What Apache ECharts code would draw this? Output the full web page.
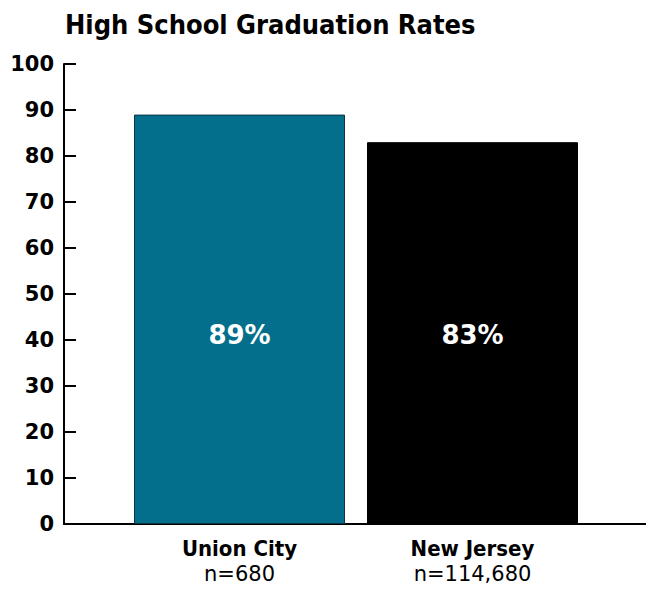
<!DOCTYPE html>
<html>
<head>
<meta charset="utf-8">
<script src="https://cdn.jsdelivr.net/npm/echarts@6/dist/echarts.min.js"></script>
<style>
  html, body { margin: 0; padding: 0; background: #fff; }
  #chart { width: 646px; height: 590px; }
</style>
</head>
<body>
<div id="chart"></div>
<script>
// Graduation rates
const categories = ['Union City', 'New Jersey'];
const sampleSizes = ['n=680', 'n=114,680'];
const rates = [89, 83];
const barColors = ['#046f8c', '#000000'];
const yTicks = [0, 10, 20, 30, 40, 50, 60, 70, 80, 90, 100];

const chart = echarts.init(document.getElementById('chart'), null, { renderer: 'svg' });

const option = {
    animation: false,
    title: {
        text: 'High School Graduation Rates',
        left: 60,
        top: 6,
        textStyle: { fontFamily: 'DejaVu Sans Condensed', fontWeight: 'bold', fontSize: 27, color: '#000' }
    },
    grid: [
        // outer frame: y axis and the full-width baseline
        { left: 64, right: 0, top: 64, height: 460 },
        // inner plot for the bars
        { left: 123, right: 57, top: 64, height: 460 }
    ],
    xAxis: [
        {
            gridIndex: 0, type: 'value', min: 0, max: 1,
            axisLine: { show: true, lineStyle: { color: '#000', width: 2 } },
            axisTick: { show: false }, axisLabel: { show: false }, splitLine: { show: false }
        },
        {
            gridIndex: 1, type: 'category', data: categories,
            axisLine: { show: false }, axisTick: { show: false },
            axisLabel: {
                margin: 12,
                formatter: (v, i) => '{a|' + v + '}\n{b|' + sampleSizes[i] + '}',
                rich: {
                    a: { fontFamily: 'DejaVu Sans Condensed', fontWeight: 'bold', fontSize: 22, color: '#000', lineHeight: 25 },
                    b: { fontFamily: 'DejaVu Sans', fontSize: 21, color: '#000', lineHeight: 25 }
                }
            }
        }
    ],
    yAxis: [
        {
            gridIndex: 0, type: 'value', min: yTicks[0], max: yTicks[yTicks.length - 1], interval: 10,
            axisLine: { show: true, lineStyle: { color: '#000', width: 2 } },
            axisTick: { show: true, inside: true, length: 12, lineStyle: { color: '#000', width: 2 } },
            axisLabel: { margin: 10, fontFamily: 'DejaVu Sans', fontWeight: 'bold', fontSize: 21, color: '#000' },
            splitLine: { show: false }
        },
        {
            gridIndex: 1, type: 'value', min: 0, max: 100, show: false
        }
    ],
    series: [
        {
            type: 'bar',
            xAxisIndex: 1, yAxisIndex: 1,
            barWidth: 211,
            data: rates.map((v, i) => ({
                value: v,
                itemStyle: {
                    color: barColors[i],
                    borderColor: i === 0 ? '#0b3340' : '#000',
                    borderWidth: 1
                }
            })),
            label: {
                show: true,
                position: 'insideBottom',
                distance: 176,
                formatter: p => p.value + '%',
                fontFamily: 'DejaVu Sans', fontWeight: 'bold', fontSize: 26, color: '#fff'
            }
        }
    ]
};

chart.setOption(option);
</script>
</body>
</html>
